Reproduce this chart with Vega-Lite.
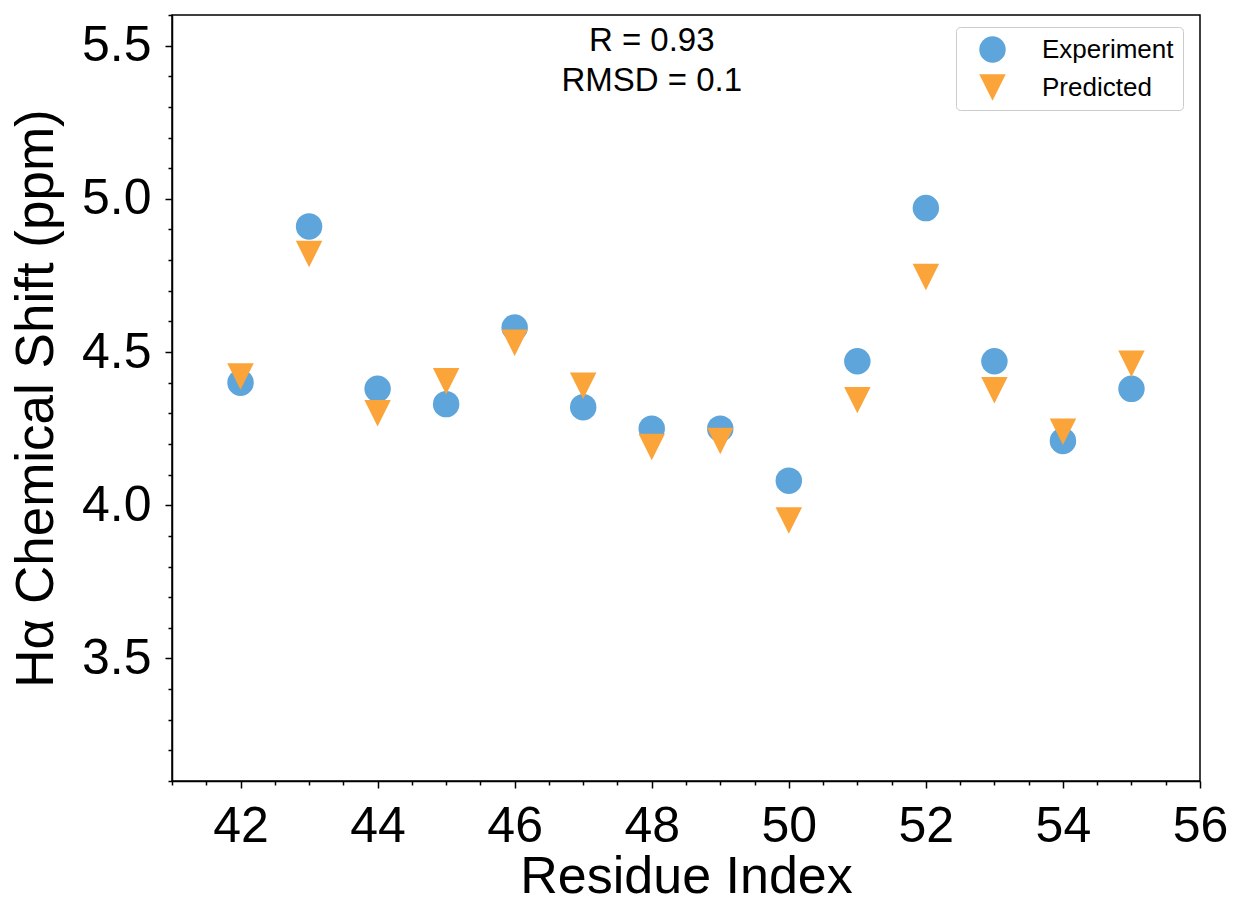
{
  "$schema": "https://vega.github.io/schema/vega-lite/v6.json",
  "width": 1028,
  "height": 766,
  "autosize": "none",
  "padding": {"left": 172, "top": 15, "right": 36, "bottom": 122},
  "background": "white",
  "config": {
    "font": "Liberation Sans",
    "view": {"stroke": "black", "strokeWidth": 1.5},
    "axis": {
      "domainColor": "black",
      "domainWidth": 1.5,
      "tickColor": "black",
      "tickWidth": 1.5,
      "labelColor": "black",
      "titleColor": "black",
      "labelFont": "Liberation Sans",
      "titleFont": "Liberation Sans",
      "labelFontSize": 50,
      "titleFontSize": 52,
      "titleFontWeight": "normal",
      "grid": false,
      "labelOverlap": false,
      "labelFlush": false
    },
    "legend": {
      "labelFont": "Liberation Sans",
      "labelFontSize": 26,
      "labelColor": "black"
    }
  },
  "resolve": {"axis": {"x": "independent", "y": "independent"}},
  "data": {
    "values": [
      {"residue": 42, "shift": 4.40, "series": "Experiment"},
      {"residue": 43, "shift": 4.91, "series": "Experiment"},
      {"residue": 44, "shift": 4.38, "series": "Experiment"},
      {"residue": 45, "shift": 4.33, "series": "Experiment"},
      {"residue": 46, "shift": 4.58, "series": "Experiment"},
      {"residue": 47, "shift": 4.32, "series": "Experiment"},
      {"residue": 48, "shift": 4.25, "series": "Experiment"},
      {"residue": 49, "shift": 4.25, "series": "Experiment"},
      {"residue": 50, "shift": 4.08, "series": "Experiment"},
      {"residue": 51, "shift": 4.47, "series": "Experiment"},
      {"residue": 52, "shift": 4.97, "series": "Experiment"},
      {"residue": 53, "shift": 4.47, "series": "Experiment"},
      {"residue": 54, "shift": 4.21, "series": "Experiment"},
      {"residue": 55, "shift": 4.38, "series": "Experiment"},
      {"residue": 42, "shift": 4.42, "series": "Predicted"},
      {"residue": 43, "shift": 4.82, "series": "Predicted"},
      {"residue": 44, "shift": 4.30, "series": "Predicted"},
      {"residue": 45, "shift": 4.405, "series": "Predicted"},
      {"residue": 46, "shift": 4.53, "series": "Predicted"},
      {"residue": 47, "shift": 4.39, "series": "Predicted"},
      {"residue": 48, "shift": 4.19, "series": "Predicted"},
      {"residue": 49, "shift": 4.21, "series": "Predicted"},
      {"residue": 50, "shift": 3.95, "series": "Predicted"},
      {"residue": 51, "shift": 4.343, "series": "Predicted"},
      {"residue": 52, "shift": 4.745, "series": "Predicted"},
      {"residue": 53, "shift": 4.375, "series": "Predicted"},
      {"residue": 54, "shift": 4.24, "series": "Predicted"},
      {"residue": 55, "shift": 4.462, "series": "Predicted"}
    ]
  },
  "layer": [
    {
      "mark": {"type": "point", "filled": true, "opacity": 1, "size": 700, "strokeWidth": 0},
      "encoding": {
        "x": {
          "field": "residue",
          "type": "quantitative",
          "scale": {"domain": [41, 56], "nice": false, "zero": false},
          "axis": {
            "orient": "bottom",
            "title": "Residue Index",
            "values": [42, 44, 46, 48, 50, 52, 54, 56],
            "format": "d",
            "tickSize": 7,
            "labelPadding": 13,
            "titlePadding": 0
          }
        },
        "y": {
          "field": "shift",
          "type": "quantitative",
          "scale": {"domain": [3.1, 5.6], "nice": false, "zero": false},
          "axis": {
            "orient": "left",
            "title": "Hα Chemical Shift (ppm)",
            "titleFontSize": 53,
            "values": [3.5, 4.0, 4.5, 5.0, 5.5],
            "format": ".1f",
            "tickSize": 7,
            "labelPadding": 14,
            "titlePadding": 18
          }
        },
        "color": {
          "field": "series",
          "type": "nominal",
          "scale": {"domain": ["Experiment", "Predicted"], "range": ["#5DA5DA", "#FAA43A"]},
          "legend": {
            "title": null,
            "orient": "none",
            "legendX": 784,
            "legendY": 12,
            "padding": 9,
            "symbolOffset": 14,
            "labelOffset": 36,
            "rowPadding": 11,
            "symbolSize": 700,
            "symbolStrokeWidth": 0,
            "strokeColor": "#cccccc",
            "fillColor": "white",
            "cornerRadius": 4
          }
        },
        "shape": {
          "field": "series",
          "type": "nominal",
          "scale": {"domain": ["Experiment", "Predicted"], "range": ["circle", "M-1,-1L1,-1L0,1Z"]},
          "legend": {
            "title": null,
            "orient": "none",
            "legendX": 784,
            "legendY": 12,
            "padding": 9,
            "symbolOffset": 14,
            "labelOffset": 36,
            "rowPadding": 11,
            "symbolSize": 700,
            "symbolStrokeWidth": 0,
            "strokeColor": "#cccccc",
            "fillColor": "white",
            "cornerRadius": 4
          }
        }
      }
    },
    {
      "data": {"values": [{"note": "stats"}]},
      "mark": {"type": "text", "fontSize": 33, "font": "Liberation Sans", "color": "black", "align": "center", "baseline": "top", "lineHeight": 40},
      "encoding": {
        "x": {
          "datum": 48,
          "type": "quantitative",
          "axis": {
            "orient": "bottom",
            "title": null,
            "labels": false,
            "domain": false,
            "tickSize": 4,
            "values": [41, 41.5, 42.5, 43, 43.5, 44.5, 45, 45.5, 46.5, 47, 47.5, 48.5, 49, 49.5, 50.5, 51, 51.5, 52.5, 53, 53.5, 54.5, 55, 55.5]
          }
        },
        "y": {
          "datum": 5.567,
          "type": "quantitative",
          "axis": {
            "orient": "left",
            "title": null,
            "labels": false,
            "domain": false,
            "tickSize": 4,
            "values": [3.1, 3.2, 3.3, 3.4, 3.6, 3.7, 3.8, 3.9, 4.1, 4.2, 4.3, 4.4, 4.6, 4.7, 4.8, 4.9, 5.1, 5.2, 5.3, 5.4, 5.6]
          }
        },
        "text": {"value": ["R = 0.93", "RMSD = 0.1"]}
      }
    }
  ]
}
